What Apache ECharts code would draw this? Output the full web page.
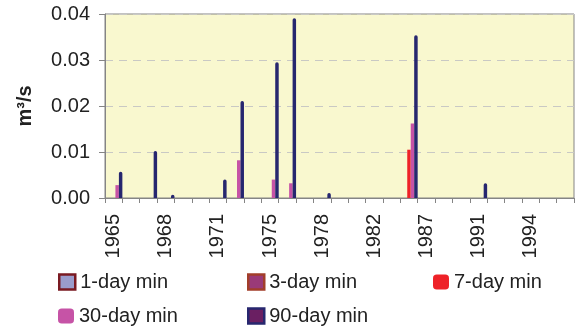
<!DOCTYPE html>
<html>
<head>
<meta charset="utf-8">
<script src="https://cdn.jsdelivr.net/npm/echarts@6/dist/echarts.min.js"></script>
<style>
  html, body { margin: 0; padding: 0; background: #ffffff; }
  #chart { width: 576px; height: 333px; }
</style>
</head>
<body>
<div id="chart"></div>
<script>
// Annual low-flow minima (m³/s), one slot per year of record; null = no flow recorded
const years = ['1965','1966','1967','1968','1969','1970','1971','1972','1973',
               '1975','1976','1977','1978','1979','1980','1982','1983','1986',
               '1987','1988','1989','1991','1992','1993','1994','1995','1996'];

const _ = null;
const min1Day  = [_,_,_,_,_,_,_,_,_,_,_,_,_,_,_,_,_,_,_,_,_,_,_,_,_,_,_];
const min3Day  = [_,_,_,_,_,_,_,_,_,_,_,_,_,_,_,_,_,_,_,_,_,_,_,_,_,_,_];
const min7Day  = [_,_,_,_,_,_,_,_,_,_,_,_,_,_,_,_,_,0.0105,_,_,_,_,_,_,_,_,_];
const min30Day = [0.0028,_,_,_,_,_,_,0.0082,_,0.0040,0.0032,_,_,_,_,_,_,0.0162,_,_,_,_,_,_,_,_,_];
const min90Day = [0.0057,_,0.0102,0.0007,_,_,0.0040,0.0211,_,0.0295,0.0391,_,0.0011,_,_,_,_,0.0354,_,_,_,0.0032,_,_,_,_,_];

const yTicks = { min: 0, max: 0.04, step: 0.01 };

const FONT = "'Liberation Sans', Arial, sans-serif";
const TEXT = '#222222';
const AXIS = '#858585';

const seriesDefs = [
  { name: '1-day min',  data: min1Day,  color: '#9a9ccc', border: '#7a1a22', icon: 'rect' },
  { name: '3-day min',  data: min3Day,  color: '#9a3a78', border: '#a23e2a', icon: 'rect' },
  { name: '7-day min',  data: min7Day,  color: '#ee2228', border: null,      icon: 'roundRect' },
  { name: '30-day min', data: min30Day, color: '#c653a6', border: null,      icon: 'roundRect' },
  { name: '90-day min', data: min90Day, color: '#27276f', border: null,      icon: 'rect',
    legendFill: '#6a1f62', legendBorder: '#27276f' }
];

// legend slots: two rows, three columns
const legendPos = [
  { left: 58,  top: 272 }, { left: 247, top: 272 }, { left: 433, top: 272 },
  { left: 58,  top: 306 }, { left: 247, top: 306 }
];

const legends = seriesDefs.map((s, i) => ({
  left: legendPos[i].left,
  top: legendPos[i].top,
  padding: 0,
  itemWidth: 16,
  itemHeight: 15,
  selectedMode: false,
  textStyle: { fontFamily: FONT, fontSize: 20, color: TEXT },
  data: [{
    name: s.name,
    icon: s.icon,
    itemStyle: {
      color: s.legendFill || s.color,
      borderColor: s.legendBorder || s.border || s.color,
      borderWidth: (s.legendBorder || s.border) ? 2.5 : 0
    }
  }]
}));

const series = seriesDefs.map((s, i) => ({
  name: s.name,
  type: 'bar',
  data: s.data,
  barGap: '0%',
  barCategoryGap: '0%',
  itemStyle: i === 4
    ? { color: s.color, borderColor: s.color, borderWidth: 1.5, borderRadius: [2, 2, 0, 0] }
    : { color: s.color },
  emphasis: { disabled: true }
}));

const chart = echarts.init(document.getElementById('chart'), null, { renderer: 'canvas' });
chart.setOption({
  animation: false,
  backgroundColor: '#ffffff',
  legend: legends,
  grid: {
    left: 105, right: 2, top: 14, bottom: 135,
    show: true,
    backgroundColor: '#f9f8cf',
    borderColor: AXIS,
    borderWidth: 1
  },
  xAxis: {
    type: 'category',
    data: years,
    axisLine: { lineStyle: { color: AXIS, width: 1 } },
    axisTick: { show: true, interval: 0, length: 5, lineStyle: { color: AXIS } },
    axisLabel: {
      interval: 2, rotate: 90, margin: 16,
      fontFamily: FONT, fontSize: 20, color: TEXT
    },
    splitLine: { show: false }
  },
  yAxis: {
    type: 'value',
    min: yTicks.min, max: yTicks.max, interval: yTicks.step,
    name: 'm³/s',
    nameLocation: 'middle',
    nameGap: 70,
    nameTextStyle: { fontFamily: FONT, fontSize: 20, fontWeight: 'bold', color: TEXT },
    axisLine: { show: true, lineStyle: { color: AXIS, width: 1 } },
    axisTick: { show: true, length: 6, lineStyle: { color: AXIS } },
    axisLabel: {
      margin: 15, fontFamily: FONT, fontSize: 20, color: TEXT,
      formatter: v => v.toFixed(2)
    },
    splitLine: { show: true, lineStyle: { color: '#c9c9c4', type: [8, 6], width: 1.2 } }
  },
  series: series
});
</script>
</body>
</html>
